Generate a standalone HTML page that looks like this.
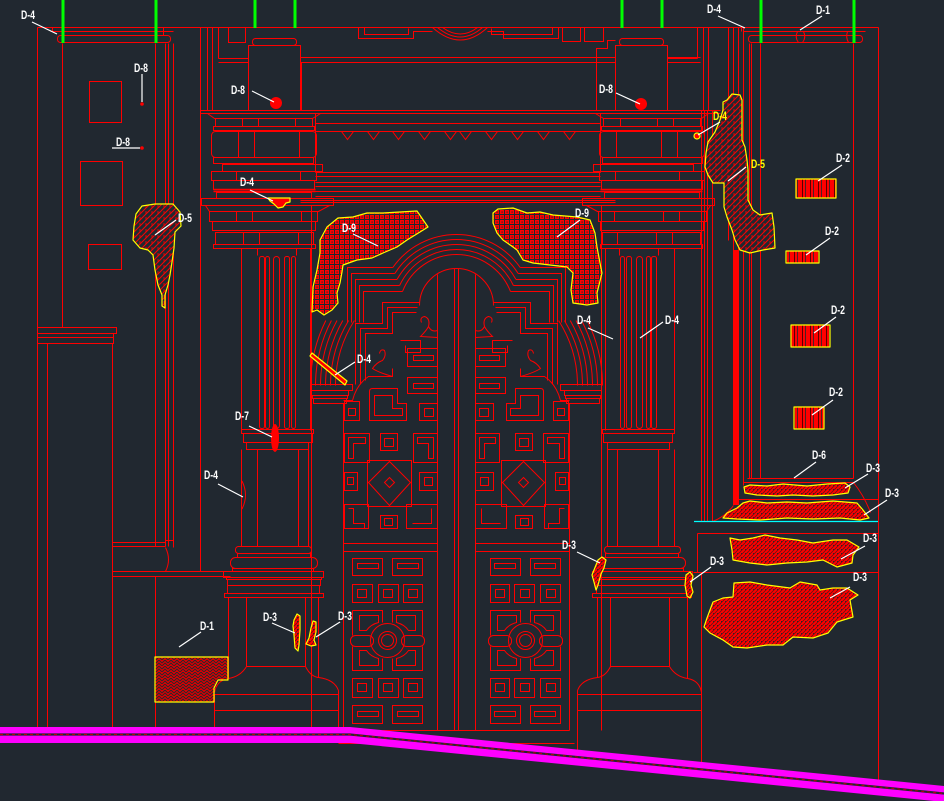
<!DOCTYPE html>
<html><head><meta charset="utf-8">
<style>
html,body{margin:0;padding:0;background:#212830;overflow:hidden}
svg{display:block}
.t{fill:#fff;font-family:"Liberation Sans",sans-serif;font-weight:bold;font-size:12px}
.ty{fill:#ff0;font-family:"Liberation Sans",sans-serif;font-weight:bold;font-size:12px}
</style></head>
<body>
<svg width="944" height="801" viewBox="0 0 944 801" xmlns="http://www.w3.org/2000/svg">
<defs>
 <pattern id="p9" width="5" height="5" patternUnits="userSpaceOnUse"><rect width="5" height="5" fill="#f00"/><rect x="4" y="0" width="1" height="5" fill="#212830"/><rect x="0" y="4" width="5" height="1" fill="#212830"/><rect x="1.5" y="1.5" width="1.2" height="1.2" fill="#212830"/></pattern>
 <pattern id="p3" width="4" height="4" patternUnits="userSpaceOnUse"><rect width="4" height="4" fill="#f00"/><path d="M0 4L4 0M-1 1L1 -1M3 5L5 3" stroke="#6a1010" stroke-width="0.8"/><rect x="1" y="1" width="1" height="1" fill="#212830"/></pattern>
 <pattern id="p1" width="6" height="6" patternUnits="userSpaceOnUse"><rect width="6" height="6" fill="#d00"/><path d="M0 3L3 0L6 3M0 6L3 3L6 6" stroke="#212830" stroke-width="0.9" fill="none"/></pattern>
 <pattern id="p5" width="6" height="6" patternUnits="userSpaceOnUse"><rect width="6" height="6" fill="#212830"/><path d="M0 6L6 0M-1 1L1 -1M5 7L7 5" stroke="#f00" stroke-width="1"/><path d="M2 1V4" stroke="#f00" stroke-width="0.8"/></pattern>
 <pattern id="p2" width="8" height="4" patternUnits="userSpaceOnUse"><rect width="8" height="4" fill="#f00"/><rect x="2" width="1" height="4" fill="#5a0000"/><rect x="5" width="0.8" height="4" fill="#212830"/></pattern>

 <g id="col">
  <path d="M207 27V110M212 27V110M218 27V58"/>
  <rect x="252" y="38" width="44" height="7" rx="3"/>
  <rect x="248" y="45" width="52" height="65"/>
  <path d="M218 58H248M218 62H248"/>
  <path d="M205 110H322M205 113H322"/>
  <path d="M207 113L214 118H312L320 113"/>
  <rect x="215" y="118" width="97" height="8"/>
  <path d="M242 118V126M258 118V126M295 118V126"/>
  <rect x="213" y="126" width="101" height="4"/>
  <rect x="211" y="131" width="105" height="26" rx="4"/>
  <path d="M238 131V157M254 131V157M299 131V157"/>
  <rect x="213" y="157" width="100" height="6"/>
  <rect x="222" y="164" width="100" height="7"/>
  <rect x="211" y="171" width="105" height="9"/>
  <path d="M236 171V180M300 171V180"/>
  <rect x="213" y="180" width="101" height="9"/>
  <path d="M213 189H315M213 191H315" stroke-width="1.5"/>
  <rect x="216" y="192" width="95" height="6"/>
  <rect x="201" y="198" width="132" height="7"/>
  <path d="M205 205L209 211H318L329 205"/>
  <rect x="209" y="211" width="108" height="10"/>
  <path d="M236 211V221M252 211V221M301 211V221"/>
  <rect x="212" y="221" width="103" height="9"/>
  <rect x="215" y="232" width="98" height="12"/>
  <path d="M243 232V244M259 232V244M298 232V244"/>
  <rect x="213" y="244" width="102" height="4"/>
  <path d="M241 248V430M310 248V430M257 248V255M296 248V255"/>
  <rect x="259" y="256" width="5" height="172" rx="2"/>
  <rect x="265" y="256" width="4" height="172" rx="2"/>
  <rect x="273" y="256" width="6" height="172" rx="3"/>
  <rect x="284" y="256" width="5" height="172" rx="2"/>
  <rect x="291" y="256" width="4" height="172" rx="2"/>
  <rect x="241" y="429" width="72" height="4"/>
  <rect x="243" y="433" width="69" height="9"/>
  <rect x="246" y="442" width="62" height="7"/>
  <path d="M241 449V546M308 449V546M257 449V546M298 449V546"/>
  <rect x="235" y="546" width="76" height="7" rx="3"/>
  <rect x="237" y="553" width="73" height="4"/>
  <rect x="230" y="557" width="87" height="11" rx="5"/>
  <rect x="232" y="568" width="81" height="3"/>
  <rect x="223" y="571" width="100" height="6"/>
  <rect x="226" y="577" width="95" height="2"/>
  <rect x="227" y="579" width="93" height="6"/>
  <rect x="227" y="585" width="92" height="8"/>
  <rect x="224" y="593" width="99" height="4"/>
  <path d="M228 597V678M318 597V677M246 597V666H305V597"/>
  <path d="M246 666Q240 676 228 678Q216 680 214 692M305 666Q310 676 318 677Q334 679 338 690"/>
  <path d="M214 694H338M214 710H338"/>
 </g>

 <g id="leaf">
  <path d="M311 205V730M343 403V730M437 274V730M454 268V730"/>
  <rect x="311" y="384" width="41" height="6"/>
  <rect x="311" y="390" width="37" height="5"/>
  <rect x="312" y="395" width="35" height="3"/>
  <rect x="313" y="398" width="33" height="5"/>
  <path d="M310 385A146 146 0 0 1 325.3 320M315 385A141 141 0 0 1 330.9 320M320 385A136 136 0 0 1 336.5 320M325 385A131 131 0 0 1 342.3 320M330 385A126 126 0 0 1 348.1 320M335 385A121 121 0 0 1 353.9 320"/>
  <path d="M347 322V267H392.3M351 322V273H394.3M355 322V279H396.5M359 322V285H399.1M363 322V291H402"/>
  <path d="M392.3 267A78 78 0 0 1 456 234M394.3 273A73 73 0 0 1 456 239M396.5 279A68 68 0 0 1 456 244M399.1 285A63 63 0 0 1 456 249M402 291A58 58 0 0 1 456 254"/>
  <path d="M355 384V323H382V302H419M360 384V328H387V307H417M365 380V333H392V312H416"/>
  <path d="M419 305A37 37 0 0 1 456 268"/>
  <path d="M437 337L420 336Q426 330 428 326Q430 318 424 316Q419 317 421 322M437 330Q431 332 428 326"/>
  <path d="M392 376Q378 372 372 368Q376 362 382 360Q386 355 384 350Q380 348 379 353M400 340H420V352H405V345"/>
  <path d="M343 400H352Q356 384 368 376H392V368"/>
  <rect x="407" y="348" width="30" height="18"/><rect x="413" y="355" width="20" height="5"/>
  <rect x="407" y="377" width="30" height="16"/><rect x="413" y="383" width="20" height="5"/>
  <path d="M372 388H397V403H406V420H369V391Q369 388 372 388ZM374 395H392V408H402V415H374Z"/>
  <rect x="344" y="401" width="15" height="19"/><rect x="348" y="408" width="7" height="7"/>
  <rect x="419" y="403" width="18" height="17"/><rect x="424" y="408" width="9" height="8"/>
  <path d="M344 433H369V462H344ZM348 437H365V443H353V458H348Z"/>
  <rect x="380" y="433" width="17" height="17"/><rect x="384" y="438" width="9" height="8"/>
  <path d="M413 433H437V462H413ZM417 437H433V458H428V443H417Z"/>
  <rect x="367" y="460" width="44" height="46"/>
  <path d="M389 461L410 482L389 505L368 482ZM389 477L394 482L389 487L384 482Z"/>
  <rect x="344" y="472" width="13" height="18"/><rect x="347" y="477" width="6" height="7"/>
  <rect x="419" y="472" width="18" height="18"/><rect x="424" y="477" width="8" height="8"/>
  <path d="M344 504H368V528H344ZM348 508H353V523H364V528"/>
  <rect x="380" y="515" width="17" height="13"/><rect x="384" y="518" width="8" height="7"/>
  <path d="M406 504H437V528H406ZM431 508V523H412"/>
  <path d="M343 543H437M343 551H437M343 730H456M338 743H456"/>
  <rect x="352" y="558" width="30" height="17"/><rect x="357" y="563" width="21" height="5"/>
  <rect x="392" y="558" width="30" height="17"/><rect x="397" y="563" width="21" height="5"/>
  <rect x="352" y="584" width="20" height="18"/><rect x="357" y="589" width="9" height="8"/>
  <rect x="378" y="584" width="20" height="18"/><rect x="383" y="589" width="9" height="8"/>
  <rect x="403" y="584" width="19" height="18"/><rect x="408" y="589" width="9" height="8"/>
  <path d="M352 610H382V622M392 622V610H422V635M422 646V670H392V658M382 658V670H352V646M352 635V610"/>
  <circle cx="387" cy="640" r="17"/><circle cx="387" cy="640" r="9"/><circle cx="387" cy="640" r="6"/>
  <rect x="350" y="635" width="23" height="11" rx="5"/><rect x="401" y="635" width="23" height="11" rx="5"/>
  <path d="M359 615H378V622Q370 624 366 630H359ZM415 615H396V622Q404 624 408 630H415ZM359 665H378V658Q370 656 366 650H359ZM415 665H396V658Q404 656 408 650H415Z"/>
  <rect x="352" y="678" width="20" height="19"/><rect x="357" y="683" width="9" height="8"/>
  <rect x="378" y="678" width="20" height="19"/><rect x="383" y="683" width="9" height="8"/>
  <rect x="403" y="678" width="19" height="19"/><rect x="408" y="683" width="9" height="8"/>
  <rect x="352" y="705" width="30" height="18"/><rect x="357" y="711" width="21" height="5"/>
  <rect x="392" y="705" width="30" height="18"/><rect x="397" y="711" width="21" height="5"/>
 </g>
</defs>

<rect width="944" height="801" fill="#212830"/>

<g fill="none" stroke="#f00" stroke-width="1" transform="translate(0.5,0.5)">
 <!-- overall frame -->
 <path d="M37 27H878M37 27V727M878 27V780"/>
 <!-- left wall -->
 <path d="M50 31H173M52 27V31"/>
 <rect x="57" y="35" width="113" height="7" rx="3"/>
 <path d="M62 43V327M155 43V546M165 43V546M168 43V546M173 43V540M200 27V571M163 27V35"/>
 <rect x="89" y="81" width="32" height="41"/>
 <rect x="80" y="161" width="42" height="44"/>
 <rect x="88" y="244" width="33" height="25"/>
 <rect x="37" y="327" width="79" height="6"/>
 <rect x="37" y="333" width="76" height="4"/>
 <rect x="37" y="337" width="76" height="6"/>
 <path d="M47 343V727M112 343V727M112 542H165M112 546H165M165 540H173V547M165 547Q171 559 165 571M112 571H230M112 576H230M155 576V727"/>
 <rect x="228" y="27" width="17" height="15"/>
 <!-- frieze -->
 <path d="M300 57H615M300 62H615M667 57H700M667 62H700"/>
 <path d="M301 62V110M596 110V48H607V40H615"/>
 <path d="M358 27V38H413V31H432M364 27V34H408V28M487 31H503V38H558V27M491 28V34H552V27"/>
 <path d="M432 27Q460 52 487 27M437 27Q460 46 482 27M442 27Q460 40 477 27"/>
 <rect x="562" y="27" width="18" height="14"/>
 <rect x="584" y="27" width="19" height="14"/>
 <path d="M200 110H720M200 113H720M315 123H600M315 131H600M315 113V172M600 113V172"/>
 <path d="M341 131L347 139L353 131M367 131L373 139L379 131M392 131L398 139L404 131M418 131L424 139L430 131M444 131L450 139L456 131M459 131L465 139L471 131M485 131L491 139L497 131M511 131L517 139L523 131M537 131L543 139L549 131M563 131L569 139L575 131"/>
 <path d="M315 172H600M315 176H600M315 182H600M315 186H600M315 191H600M315 196H600M300 200H615M300 202H615"/>
 <!-- columns -->
 <use href="#col"/>
 <use href="#col" transform="translate(915,0) scale(-1,1)"/>
 <path d="M214 694V727M338 690V727M577 690V752M701 692V766"/>
 <!-- door -->
 <use href="#leaf"/>
 <use href="#leaf" transform="translate(912,0) scale(-1,1)"/>
 <path d="M437 300V274"/>
 <!-- right wall -->
 <path d="M743 31H865M741 27V31"/>
 <rect x="748" y="35" width="114" height="7" rx="3"/>
 <path d="M797 31Q794 37 798 42M803 31Q806 37 802 42M847 31Q845 37 848 42"/>
 <path d="M701 110V521M704 110V521M707 110V521M712 110V521M728 27V240M733 27V250M738 27V250M743 27V485M749 43V478M751 43V478M760 43V478M853 43V478"/>
 <path d="M747 478H853M743 482H853M853 482Q864 496 870 512M738 499H878M733 505Q725 516 712 521"/>
 <path d="M697 533H878M697 533V572M693 572H878M701 572V692"/>
</g>
<rect x="733" y="250" width="6" height="255" fill="#f00"/>
<path d="M694 521.5H878" stroke="#0ff" stroke-width="1.2"/>

<!-- ground -->
<polygon points="0,727 350,727 944,786 944,802 350,743 0,743" fill="#f0f"/>
<path d="M0 734.5H350L944 793.5" stroke="#212830" stroke-width="2.2" fill="none"/>
<path d="M0 734.5H350L944 793.5" stroke="#b00" stroke-width="1" stroke-dasharray="3 3" fill="none"/>

<!-- green -->
<g stroke="#0f0" stroke-width="3">
 <path d="M63 0V43M156 0V43M255 0V28M295 0V28M622 0V28M662 0V28M761 0V43M854 0V43"/>
</g>

<!-- hatches -->
<g stroke="#ff0" stroke-width="1.2" stroke-linejoin="round">
 <polygon fill="url(#p5)" points="136,214 142,206 155,204 173,204 180,212 181,226 175,232 174,248 172,262 170,275 168,285 165,295 165,308 162,306 162,295 158,285 155,270 153,255 148,250 140,248 133,240 134,226"/>
 <polygon fill="url(#p5)" points="727,100 732,94 740,95 742,100 742,140 745,147 747,160 748,170 748,200 753,210 760,215 772,213 774,227 775,248 763,250 750,253 740,250 735,240 732,230 727,217 724,207 724,183 713,183 708,175 705,167 706,153 708,142 715,132 720,120 723,110 723,102"/>
 <polygon fill="url(#p9)" points="327,227 338,218 353,217 367,213 383,213 400,212 417,211 428,227 420,232 407,240 397,247 383,253 372,258 357,260 343,265 342,272 340,283 337,293 338,303 332,310 324,315 317,310 312,312 313,287 317,270 320,253 320,240"/>
 <polygon fill="url(#p9)" points="493,213 498,209 513,208 527,213 540,212 553,215 577,217 590,220 595,233 597,247 600,263 602,273 597,293 598,303 587,305 573,303 571,290 573,273 567,267 550,265 533,263 523,260 517,250 513,247 503,240 497,233 493,223"/>
 <polygon fill="url(#p3)" points="744,487 750,485 767,486 783,484 807,486 827,484 845,483 850,487 848,493 833,495 813,496 793,495 777,496 757,495 745,493"/>
 <polygon fill="url(#p3)" points="723,518 727,513 737,508 743,503 750,501 767,503 787,502 807,503 833,501 857,503 863,510 869,518 860,520 840,518 813,519 787,518 760,520 737,519"/>
 <polygon fill="url(#p3)" points="730,538 740,540 753,538 765,535 780,538 797,540 813,543 833,540 847,540 859,547 853,555 852,563 837,567 823,560 807,562 787,563 767,565 750,563 733,560 732,550"/>
 <polygon fill="url(#p3)" points="704,627 707,618 713,602 723,598 733,597 734,583 750,582 767,585 790,588 800,582 817,585 820,590 833,588 847,588 858,595 850,600 853,617 837,622 828,633 813,638 793,637 783,645 767,645 747,648 733,647 723,640 710,633"/>
 <polygon fill="url(#p1)" points="155,657 228,657 228,680 218,680 214,688 214,702 155,702"/>
 <polygon fill="url(#p3)" points="294,620 297,614 300,616 300,630 299,645 298,651 295,648 294,635 293,626"/>
 <polygon fill="url(#p3)" points="313,621 316,622 316,632 314,640 316,645 311,646 306,644 309,638 311,628"/>
 <polygon fill="url(#p3)" points="594,570 598,560 602,557 606,560 604,568 601,574 598,585 596,590 594,582 592,575"/>
 <polygon fill="url(#p3)" points="686,575 690,572 693,576 691,585 693,592 690,598 687,596 685,585"/>
 <polygon fill="#f00" points="268,198 290,198 290,202 286,203 283,207 278,208 274,204 270,201"/>
 <polygon fill="#f00" points="310,356 312,353 347,381 345,385"/>
 <rect x="796" y="179" width="40" height="19" fill="url(#p2)"/>
 <rect x="786" y="251" width="33" height="12" fill="url(#p2)"/>
 <rect x="791" y="325" width="39" height="22" fill="url(#p2)"/>
 <rect x="794" y="407" width="30" height="22" fill="url(#p2)"/>
 <circle cx="697" cy="136" r="3" fill="#f00"/>
</g>
<ellipse cx="275" cy="438" rx="4" ry="14" fill="#f00"/>
<circle cx="276" cy="103" r="6" fill="#f00"/>
<circle cx="641" cy="104" r="6" fill="#f00"/>
<circle cx="142" cy="104" r="1.8" fill="#f00"/>
<circle cx="142" cy="148" r="1.8" fill="#f00"/>
<path d="M242 481Q249 495 242 509" stroke="#f00" fill="none"/>

<!-- leaders -->
<g stroke="#fff" stroke-width="1.2" fill="none">
 <path d="M32 22L57 34M142 74V102M112 148H140M252 91L274 102M250 190L273 201M176 220L155 235M353 234L378 246M580 220L557 237M616 93L640 104M718 16L745 28M822 16L800 30M842 165L818 181M830 238L806 255M836 317L814 333M833 400L812 415M816 462L794 478M868 474L845 488M887 500L864 515M865 546L841 559M850 587L830 598M711 567L690 582M577 552L600 563M588 328L613 339M663 322L640 338M355 362L335 375M249 426L272 437M218 484L243 497M201 632L179 647M272 623L295 633M340 622L316 637"/>
 <path d="M720 122L698 135M746 167L728 181"/>
</g>

<!-- labels -->
<g>
 <text class="t" x="21" y="19" textLength="14" lengthAdjust="spacingAndGlyphs">D-4</text>
 <text class="t" x="134" y="72" textLength="14" lengthAdjust="spacingAndGlyphs">D-8</text>
 <text class="t" x="116" y="146" textLength="14" lengthAdjust="spacingAndGlyphs">D-8</text>
 <text class="t" x="231" y="94" textLength="14" lengthAdjust="spacingAndGlyphs">D-8</text>
 <text class="t" x="240" y="186" textLength="14" lengthAdjust="spacingAndGlyphs">D-4</text>
 <text class="t" x="178" y="222" textLength="14" lengthAdjust="spacingAndGlyphs">D-5</text>
 <text class="t" x="342" y="232" textLength="14" lengthAdjust="spacingAndGlyphs">D-9</text>
 <text class="t" x="575" y="217" textLength="14" lengthAdjust="spacingAndGlyphs">D-9</text>
 <text class="t" x="599" y="93" textLength="14" lengthAdjust="spacingAndGlyphs">D-8</text>
 <text class="t" x="707" y="13" textLength="14" lengthAdjust="spacingAndGlyphs">D-4</text>
 <text class="t" x="816" y="14" textLength="14" lengthAdjust="spacingAndGlyphs">D-1</text>
 <text class="ty" x="713" y="120" textLength="14" lengthAdjust="spacingAndGlyphs">D-4</text>
 <text class="ty" x="751" y="168" textLength="14" lengthAdjust="spacingAndGlyphs">D-5</text>
 <text class="t" x="836" y="162" textLength="14" lengthAdjust="spacingAndGlyphs">D-2</text>
 <text class="t" x="825" y="235" textLength="14" lengthAdjust="spacingAndGlyphs">D-2</text>
 <text class="t" x="831" y="314" textLength="14" lengthAdjust="spacingAndGlyphs">D-2</text>
 <text class="t" x="829" y="396" textLength="14" lengthAdjust="spacingAndGlyphs">D-2</text>
 <text class="t" x="812" y="459" textLength="14" lengthAdjust="spacingAndGlyphs">D-6</text>
 <text class="t" x="866" y="472" textLength="14" lengthAdjust="spacingAndGlyphs">D-3</text>
 <text class="t" x="885" y="497" textLength="14" lengthAdjust="spacingAndGlyphs">D-3</text>
 <text class="t" x="863" y="542" textLength="14" lengthAdjust="spacingAndGlyphs">D-3</text>
 <text class="t" x="853" y="581" textLength="14" lengthAdjust="spacingAndGlyphs">D-3</text>
 <text class="t" x="710" y="565" textLength="14" lengthAdjust="spacingAndGlyphs">D-3</text>
 <text class="t" x="562" y="549" textLength="14" lengthAdjust="spacingAndGlyphs">D-3</text>
 <text class="t" x="577" y="324" textLength="14" lengthAdjust="spacingAndGlyphs">D-4</text>
 <text class="t" x="665" y="324" textLength="14" lengthAdjust="spacingAndGlyphs">D-4</text>
 <text class="t" x="357" y="363" textLength="14" lengthAdjust="spacingAndGlyphs">D-4</text>
 <text class="t" x="235" y="420" textLength="14" lengthAdjust="spacingAndGlyphs">D-7</text>
 <text class="t" x="204" y="479" textLength="14" lengthAdjust="spacingAndGlyphs">D-4</text>
 <text class="t" x="200" y="630" textLength="14" lengthAdjust="spacingAndGlyphs">D-1</text>
 <text class="t" x="263" y="621" textLength="14" lengthAdjust="spacingAndGlyphs">D-3</text>
 <text class="t" x="338" y="620" textLength="14" lengthAdjust="spacingAndGlyphs">D-3</text>
</g>
</svg>
</body></html>
